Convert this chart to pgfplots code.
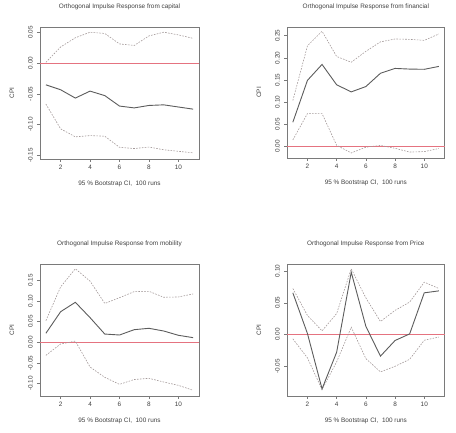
\documentclass[border=0pt]{standalone}
\usepackage{fontspec}
\setmainfont{Liberation Sans}
\usepackage{pgfplots}
\usepackage{pgfplotstable}
\pgfplotsset{compat=1.18}

\definecolor{irfline}{rgb}{0.36,0.36,0.36}
\definecolor{ciline}{rgb}{0.64,0.60,0.60}
\definecolor{zeroline}{rgb}{0.90,0.45,0.50}
\definecolor{framecol}{rgb}{0.48,0.48,0.48}
\definecolor{txt}{rgb}{0.25,0.25,0.25}

% impulse responses of CPI with 95% bootstrap bands (lo, irf, hi)
\pgfplotstableread{
h  lo       irf      hi
1  -0.0667  -0.0355  0.0010
2  -0.1070  -0.0435  0.0260
3  -0.1200  -0.0570  0.0410
4  -0.1180  -0.0457  0.0500
5  -0.1190  -0.0530  0.0480
6  -0.1370  -0.0700  0.0310
7  -0.1390  -0.0730  0.0285
8  -0.1366  -0.0690  0.0440
9  -0.1410  -0.0680  0.0500
10 -0.1435  -0.0715  0.0457
11 -0.1460  -0.0750  0.0400
}\capital

\pgfplotstableread{
h  lo       irf      hi
1   0.0144  0.0544  0.1035
2   0.0740  0.1490  0.2270
3   0.0740  0.1850  0.2600
4   0.0023  0.1390  0.2030
5  -0.0150  0.1230  0.1900
6  -0.0020  0.1350  0.2145
7   0.0020  0.1650  0.2360
8  -0.0045  0.1760  0.2425
9  -0.0130  0.1745  0.2417
10 -0.0120  0.1740  0.2394
11 -0.0050  0.1805  0.2538
}\financial

\pgfplotstableread{
h  lo       irf      hi
1  -0.0315  0.0218  0.0524
2  -0.0040  0.0740  0.1340
3   0.0030  0.0968  0.1780
4  -0.0597  0.0597  0.1480
5  -0.0847  0.0200  0.0940
6  -0.1016  0.0177  0.1080
7  -0.0900  0.0306  0.1226
8  -0.0870  0.0339  0.1234
9  -0.0960  0.0274  0.1090
10 -0.1040  0.0170  0.1097
11 -0.1160  0.0113  0.1170
}\mobility

\pgfplotstableread{
h  lo       irf      hi
1  -0.0068  0.0656  0.0724
2  -0.0367  0.0016  0.0300
3  -0.0866 -0.0855  0.0058
4  -0.0430 -0.0278  0.0330
5   0.0115  0.0980  0.1034
6  -0.0378  0.0130  0.0577
7  -0.0588 -0.0340  0.0205
8  -0.0500 -0.0094  0.0380
9  -0.0390  0.0010  0.0510
10 -0.0090  0.0656  0.0824
11 -0.0040  0.0687  0.0724
}\price

\pgfplotsset{
  irfpanel/.style={
    scale only axis,
    anchor=south west,
    xmin=0.6, xmax=11.4,
    axis line style={framecol, line width=0.55pt},
    tick style={framecol, line width=0.5pt},
    major tick length=3pt,
    tick align=outside,
    xtick pos=bottom, ytick pos=left,
    xtick={2,4,6,8,10},
    xticklabels={2,4,6,8,10},
    minor tick num=0,
    font=\fontsize{6.4}{7}\selectfont,
    every tick label/.append style={txt, font=\fontsize{6.4}{7}\selectfont},
    xticklabel style={inner sep=0pt, anchor=north},
    xticklabel shift=3pt,
    yticklabel style={rotate=90, anchor=south, inner sep=0pt},
    yticklabel shift=4pt,
    title style={at={(0.5,1)}, anchor=center, yshift=14.3pt, txt,
                 font=\fontsize{6.4}{7}\selectfont},
    xlabel={95 \% Bootstrap CI,\ \ 100 runs},
    xlabel style={at={(axis description cs:0.5,0)}, anchor=center, yshift=-25pt, txt},
    ylabel={},
    clip=false,
  },
  irf/.style={irfline, line width=0.9pt},
  ci/.style={ciline, line width=0.6pt, dash pattern=on 1.6pt off 1.3pt},
  zero/.style={zeroline, line width=0.5pt},
}

\begin{document}
\begin{tikzpicture}[x=1pt,y=1pt]
\useasboundingbox (0,0) rectangle (456,433);

% ---- capital
\begin{axis}[irfpanel, at={(40pt,274pt)}, width=159pt, height=132pt,
  ymin=-0.156, ymax=0.0585,
  ytick={-0.15,-0.10,-0.05,0,0.05},
  yticklabels={-0.15,-0.10,-0.05,0.00,0.05},
  title={Orthogonal Impulse Response from capital}]
\addplot[zero] coordinates {(0.6,0) (11.4,0)};
\addplot[ci] table[x=h,y=hi] {\capital};
\addplot[ci] table[x=h,y=lo] {\capital};
\addplot[irf] table[x=h,y=irf] {\capital};
\node[txt, rotate=90] at ([xshift=-28pt]rel axis cs:0,0.5) {CPI};
\end{axis}

% ---- financial
\begin{axis}[irfpanel, at={(287pt,275pt)}, width=157.7pt, height=131pt,
  ymin=-0.0264, ymax=0.2696,
  ytick={0,0.05,0.10,0.15,0.20,0.25},
  yticklabels={0.00,0.05,0.10,0.15,0.20,0.25},
  title={Orthogonal Impulse Response from financial}]
\addplot[zero] coordinates {(0.6,0) (11.4,0)};
\addplot[ci] table[x=h,y=hi] {\financial};
\addplot[ci] table[x=h,y=lo] {\financial};
\addplot[irf] table[x=h,y=irf] {\financial};
\node[txt, rotate=90] at ([xshift=-28pt]rel axis cs:0,0.5) {CPI};
\end{axis}

% ---- mobility
\begin{axis}[irfpanel, at={(40pt,37pt)}, width=159pt, height=131.7pt,
  ymin=-0.1298, ymax=0.1887,
  ytick={-0.10,-0.05,0,0.05,0.10,0.15},
  yticklabels={-0.10,-0.05,0.00,0.05,0.10,0.15},
  title={Orthogonal Impulse Response from mobility}]
\addplot[zero] coordinates {(0.6,0) (11.4,0)};
\addplot[ci] table[x=h,y=hi] {\mobility};
\addplot[ci] table[x=h,y=lo] {\mobility};
\addplot[irf] table[x=h,y=irf] {\mobility};
\node[txt, rotate=90] at ([xshift=-28pt]rel axis cs:0,0.5) {CPI};
\end{axis}

% ---- Price
\begin{axis}[irfpanel, at={(287pt,37pt)}, width=157.7pt, height=131.7pt,
  ymin=-0.0967, ymax=0.1105,
  ytick={-0.05,0,0.05,0.10},
  yticklabels={-0.05,0.00,0.05,0.10},
  title={Orthogonal Impulse Response from Price}]
\addplot[zero] coordinates {(0.6,0) (11.4,0)};
\addplot[ci] table[x=h,y=hi] {\price};
\addplot[ci] table[x=h,y=lo] {\price};
\addplot[irf] table[x=h,y=irf] {\price};
\node[txt, rotate=90] at ([xshift=-28pt]rel axis cs:0,0.5) {CPI};
\end{axis}
\end{tikzpicture}
\end{document}
